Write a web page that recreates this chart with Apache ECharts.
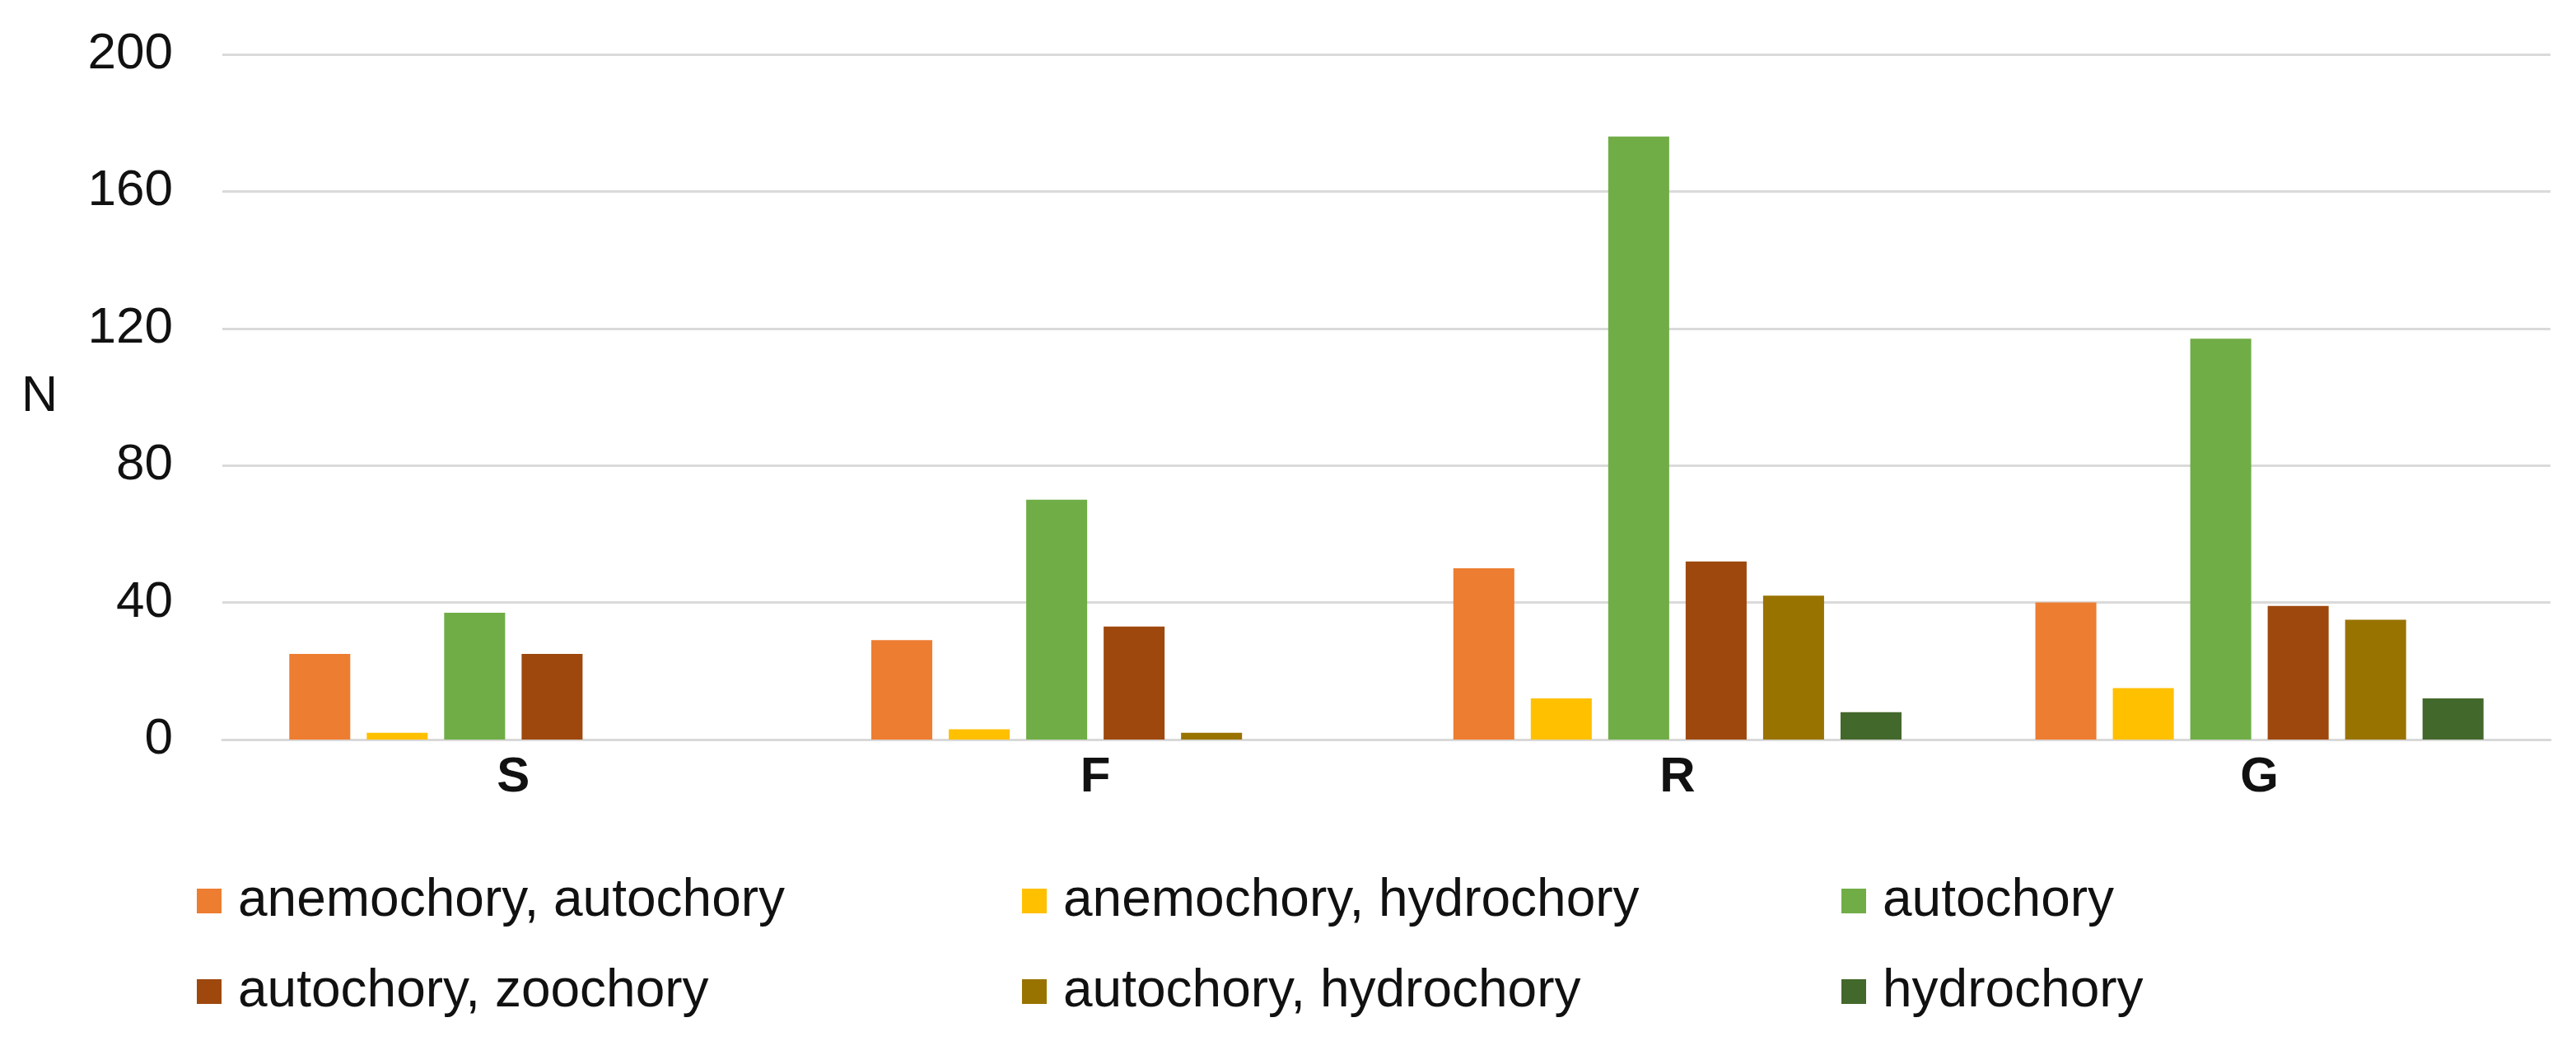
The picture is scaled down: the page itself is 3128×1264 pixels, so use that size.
<!DOCTYPE html>
<html>
<head>
<meta charset="utf-8">
<script src="https://cdn.jsdelivr.net/npm/echarts@6/dist/echarts.min.js"></script>
<style>
html,body{margin:0;padding:0;background:#fff;}
#chart{width:3128px;height:1264px;}
</style>
</head>
<body>
<div id="chart"></div>
<script>
const categories = ['S', 'F', 'R', 'G'];
const seriesNames = ['anemochory, autochory', 'anemochory, hydrochory', 'autochory', 'autochory, zoochory', 'autochory, hydrochory', 'hydrochory'];
const anemoAuto = [25, 29, 50, 40];
const anemoHydro = [2, 3, 12, 15];
const auto = [37, 70, 176, 117];
const autoZoo = [25, 33, 52, 39];
const autoHydro = [0, 2, 42, 35];
const hydro = [0, 0, 8, 12];
const yTicks = [0, 40, 80, 120, 160, 200];
const colors = ['#ED7D31', '#FFC000', '#70AD47', '#9E480E', '#997300', '#43682B'];

const values = [anemoAuto, anemoHydro, auto, autoZoo, autoHydro, hydro];
const FONT = '"Liberation Sans", Arial, sans-serif';

const legendPos = [
  [239, 1062], [1241, 1062], [2236, 1062],
  [239, 1172], [1241, 1172], [2236, 1172]
];

const chart = echarts.init(document.getElementById('chart'));
chart.setOption({
  animation: false,
  backgroundColor: '#ffffff',
  textStyle: { fontFamily: FONT },
  grid: { left: 270, right: 31, top: 66, bottom: 366, containLabel: false },
  legend: seriesNames.map((n, i) => ({
    data: [n],
    left: legendPos[i][0],
    top: legendPos[i][1],
    itemWidth: 30,
    itemHeight: 30,
    icon: 'rect',
    padding: 0,
    textStyle: { fontSize: 64, color: '#111111', fontFamily: FONT, padding: [0, 0, 0, 15] }
  })),
  xAxis: {
    type: 'category',
    data: categories,
    axisLine: { lineStyle: { color: '#D9D9D9', width: 3 } },
    axisTick: { show: false },
    axisLabel: { fontSize: 60, fontWeight: 'bold', color: '#111111', margin: 16, fontFamily: FONT }
  },
  yAxis: {
    type: 'value',
    min: 0,
    max: 200,
    interval: 40,
    name: 'N',
    nameLocation: 'middle',
    nameRotate: 0,
    nameGap: 222,
    nameTextStyle: { fontSize: 61, color: '#111111', align: 'center', verticalAlign: 'middle', fontFamily: FONT },
    axisLine: { show: false },
    axisTick: { show: false },
    splitLine: { lineStyle: { color: '#DADADA', width: 3 } },
    axisLabel: {
      fontSize: 62, color: '#111111', margin: 60, fontFamily: FONT,
      formatter: v => yTicks.includes(v) ? String(v) : ''
    }
  },
  series: seriesNames.map((n, i) => ({
    name: n,
    type: 'bar',
    data: values[i],
    itemStyle: { color: colors[i] },
    barGap: '27%',
    barCategoryGap: '23%'
  }))
});
</script>
</body>
</html>
